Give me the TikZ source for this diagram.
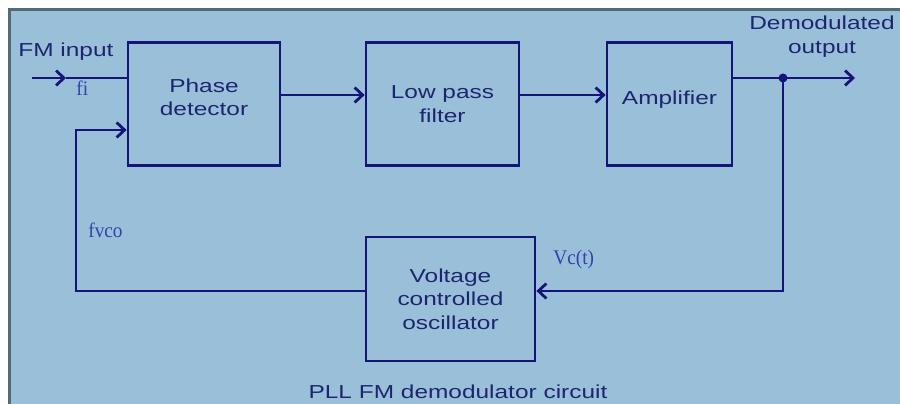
\documentclass[tikz,border=0pt]{standalone}
\usepackage{fontspec}
\usepackage{tikz}
\usetikzlibrary{arrows.meta}
\newfontfamily\blkfont[FakeStretch=1.3]{Liberation Sans}
\newfontfamily\sigfont[FakeStretch=0.93]{Liberation Serif}
\definecolor{cbg}{HTML}{9AC0D9}
\definecolor{cbrd}{HTML}{546A78}
\definecolor{cln}{HTML}{14147A}
\definecolor{ctxt}{HTML}{1E2570}
\definecolor{csig}{HTML}{3440AC}

\begin{document}
\begin{tikzpicture}[x=0.02cm,y=-0.02cm,
    >={Straight Barb[length=4.5pt,width=8.5pt]},
    wire/.style={cln,line width=1.6pt},
    blk/.style={draw=cln,line width=1.6pt,text=ctxt,align=center,inner sep=0pt,
      minimum height=2.46cm,font=\blkfont\fontsize{10.7}{13.4}\selectfont},
    txt/.style={text=ctxt,inner sep=0pt,font=\blkfont\fontsize{10.7}{13.4}\selectfont},
    sig/.style={text=csig,inner sep=0pt,font=\sigfont\fontsize{11.8}{14}\selectfont}]
    \useasboundingbox (0,0) rectangle (900,404);
    \fill[white] (0,0) rectangle (900,404);
    \fill[cbg] (9.5,9.5) rectangle (900,404);
    \draw[cbrd,line width=0.06cm] (9.5,404) -- (9.5,9.5) -- (900,9.5);

    \node[blk,minimum width=3.04cm,text depth=0.28cm] (pd) at (204,104) {Phase\\detector};
    \node[blk,minimum width=3.06cm] (lpf) at (442.5,104) {Low pass\\filter};
    \node[blk,minimum width=2.5cm,text depth=0.24cm] (amp) at (669.5,104) {Amplifier};
    \node[blk,minimum width=3.38cm,minimum height=2.48cm] (vco) at (450.5,299) {Voltage\\controlled\\oscillator};

    \coordinate (fmin) at (32,78);
    \coordinate (fmid) at (66,78);
    \coordinate (upper) at (0,95);
    \coordinate (tap) at (783,78);
    \coordinate (out) at (855,78);
    \coordinate (loop) at (0,291);
    \coordinate (fb) at (76,130);

    \draw[wire,->] (fmin) -- (fmid);
    \draw[wire] (fmid) -- (fmid -| pd.west);
    \draw[wire,->] (pd.east |- upper) -- (lpf.west |- upper);
    \draw[wire,->] (lpf.east |- upper) -- (amp.west |- upper);
    \draw[wire] (amp.east |- tap) -- (tap);
    \draw[wire,->] (tap) -- (out);
    \fill[cln] (tap) circle (4.5);
    \draw[wire,->] (tap) |- (vco.east |- loop);
    \draw[wire,->] (vco.west |- loop) -| (fb) -- (pd.west |- fb);

    \node[txt,anchor=base west] (fmlbl) at (18,57) {FM input};
    \node[sig,anchor=base west] (filbl) at (76,96) {fi};
    \node[sig,anchor=base west] (fvcolbl) at (88,238) {fvco};
    \node[sig,anchor=base west] (vclbl) at (553,265) {Vc(t)};
    \node[txt,anchor=north,align=center] (outlbl) at (822,16) {Demodulated\\output};
    \node[txt,anchor=base] (title) at (458,399) {PLL FM demodulator circuit};
\end{tikzpicture}
\end{document}
